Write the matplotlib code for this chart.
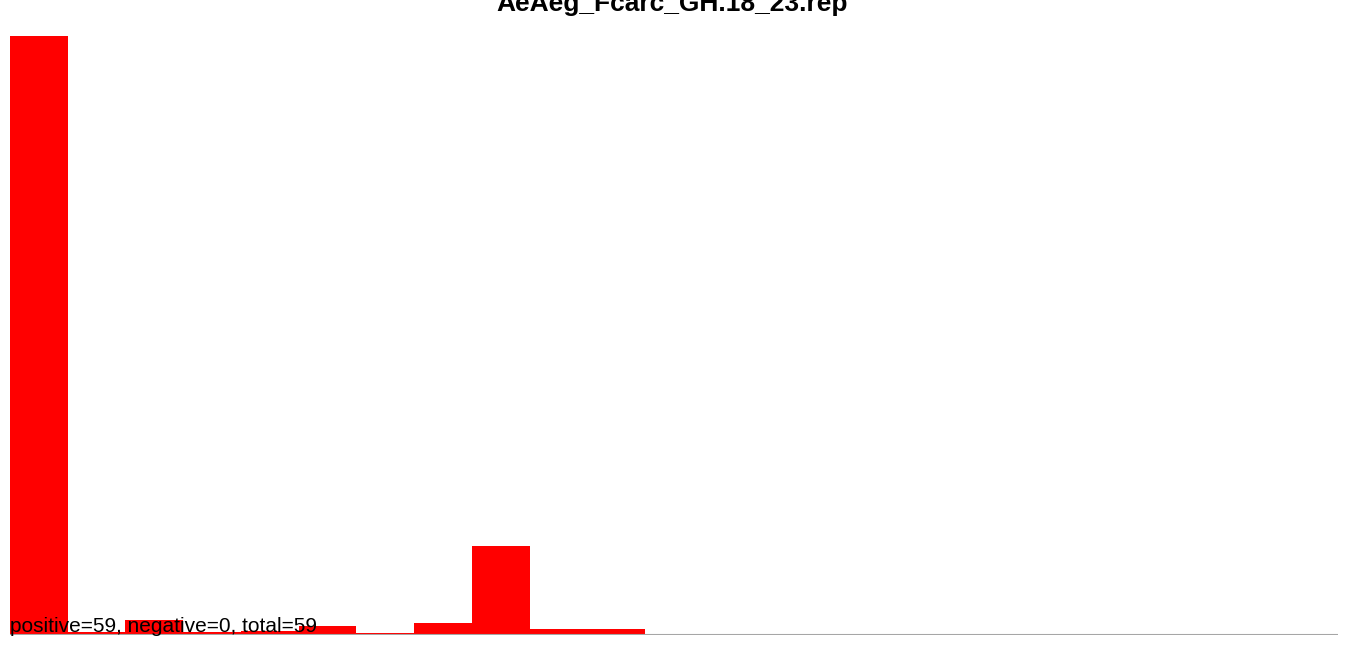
import matplotlib
matplotlib.use("Agg")
import matplotlib.pyplot as plt
import numpy as np

# Histogram data
title = "AeAeg_Fcarc_GH.18_23.rep"
bin_left = [0, 1, 2, 3, 4, 5, 6, 7, 8, 9, 10]
counts = [47.84, 0.16, 1.12, 0.184, 0.24, 0.64, 0.104, 0.88, 7.04, 0.4, 0.4]
positive = 59
negative = 0
total = 59
x_max = 23.0

plt.rcParams["font.family"] = ["Liberation Sans", "DejaVu Sans"]

W, H = 1350, 645
fig = plt.figure(figsize=(W / 100, H / 100), dpi=100)

# Axes placed in pixel terms: left 10, right 1338, baseline 634, top 36
left, right, bottom, top = 10, 1338, 634.5, 36
ax = fig.add_axes([left / W, (H - bottom) / H, (right - left) / W,
                   (bottom - top) / H])
ax.bar(bin_left, counts, width=1.0, align="edge", color="#ff0000",
       linewidth=0, zorder=1)
ax.axhline(0, color="#a6a6a6", lw=1.5, zorder=2)
ax.set_xlim(0, x_max)
ax.set_ylim(0, max(counts))
ax.set_axis_off()

# Title sits partly above the top edge, as in the reference
fig.text(672.5 / W, 1 - 11 / H, title, ha="center", va="baseline",
         fontsize=19, fontweight="bold")
fig.text(10 / W, (H - 632) / H,
         f"positive={positive}, negative={negative}, total={total}",
         ha="left", va="baseline", fontsize=15, color="black", zorder=5)

fig.savefig("out.png", dpi=100, facecolor="white")
